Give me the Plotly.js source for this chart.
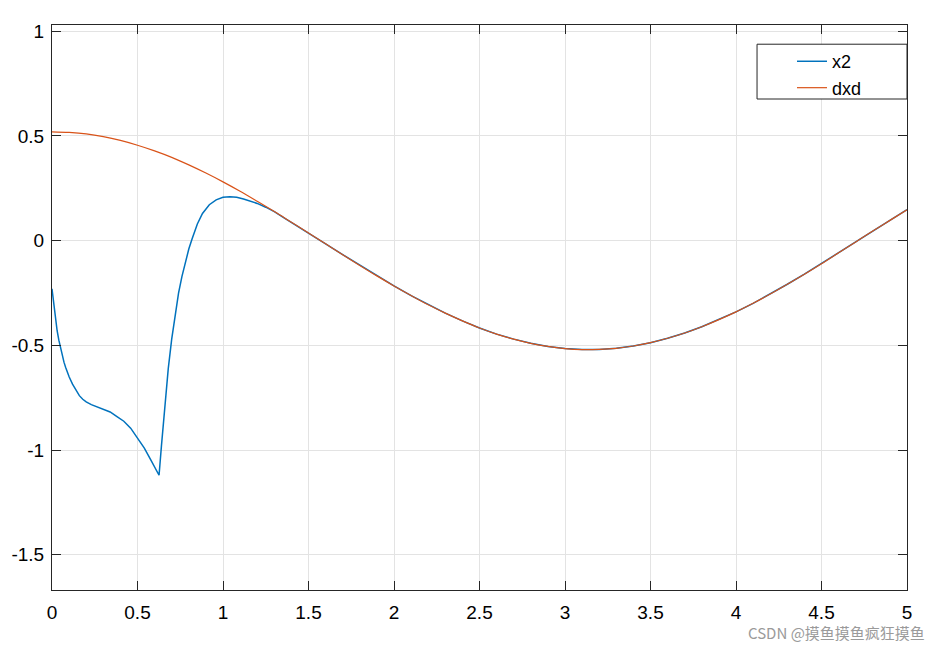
<!DOCTYPE html>
<html>
<head>
<meta charset="utf-8">
<script src="https://cdn.plot.ly/plotly-3.0.1.min.js"></script>
<style>html,body{margin:0;padding:0;background:#fff;}#chart{width:943px;height:652px;}</style>
</head>
<body>
<div id="chart"></div>
<script>
// time axis and values
const tX2 = [0, 0.01, 0.02, 0.03, 0.04, 0.05, 0.06, 0.07, 0.08, 0.09, 0.10, 0.12, 0.14, 0.16, 0.18, 0.20, 0.23, 0.26, 0.30,
  0.34, 0.38, 0.42, 0.46, 0.50, 0.54, 0.58, 0.61, 0.626,
  0.64, 0.66, 0.68, 0.70, 0.72, 0.74, 0.76, 0.78, 0.80, 0.82, 0.85, 0.88, 0.92, 0.96, 1.00, 1.04, 1.08, 1.12, 1.16, 1.20, 1.25, 1.30, 1.35, 1.40,
  1.5, 1.6, 1.7, 1.8, 1.9, 2.0, 2.1, 2.2, 2.3, 2.4, 2.5, 2.6, 2.7, 2.8, 2.9, 3.0, 3.1, 3.2, 3.3, 3.4, 3.5,
  3.6, 3.7, 3.8, 3.9, 4.0, 4.1, 4.2, 4.3, 4.4, 4.5, 4.6, 4.7, 4.8, 4.9, 5.0];
const x2 = [-0.23, -0.30, -0.37, -0.43, -0.475, -0.515, -0.55, -0.58, -0.605, -0.63, -0.65, -0.685, -0.715, -0.74, -0.757, -0.77, -0.783, -0.793, -0.805,
  -0.818, -0.84, -0.862, -0.895, -0.94, -0.99, -1.05, -1.095, -1.12,
  -0.98, -0.79, -0.61, -0.47, -0.35, -0.25, -0.17, -0.10, -0.04, 0.01, 0.08, 0.13, 0.172, 0.195, 0.207, 0.210, 0.207, 0.199, 0.190, 0.178, 0.160, 0.139, 0.113, 0.088,
  0.037, -0.015, -0.067, -0.118, -0.168, -0.216, -0.262, -0.306, -0.346, -0.383, -0.417, -0.446, -0.470, -0.490, -0.505, -0.515, -0.520, -0.519, -0.514, -0.503, -0.487,
  -0.466, -0.441, -0.411, -0.377, -0.340, -0.299, -0.255, -0.208, -0.160, -0.110, -0.058, -0.006, 0.046, 0.097, 0.148];

const tDxd = [0, 0.1, 0.2, 0.3, 0.4, 0.5, 0.6, 0.7, 0.8, 0.9, 1.0, 1.1, 1.2, 1.3, 1.4, 1.5, 1.6, 1.7, 1.8, 1.9,
  2.0, 2.1, 2.2, 2.3, 2.4, 2.5, 2.6, 2.7, 2.8, 2.9, 3.0, 3.1, 3.2, 3.3, 3.4, 3.5, 3.6, 3.7, 3.8, 3.9,
  4.0, 4.1, 4.2, 4.3, 4.4, 4.5, 4.6, 4.7, 4.8, 4.9, 5.0];
const dxd = [0.520, 0.517, 0.510, 0.497, 0.479, 0.456, 0.429, 0.398, 0.362, 0.323, 0.281, 0.236, 0.188, 0.139, 0.088, 0.037, -0.015, -0.067, -0.118, -0.168,
  -0.216, -0.262, -0.306, -0.346, -0.383, -0.417, -0.446, -0.470, -0.490, -0.505, -0.515, -0.520, -0.519, -0.514, -0.503, -0.487, -0.466, -0.441, -0.411, -0.377,
  -0.340, -0.299, -0.255, -0.208, -0.160, -0.110, -0.058, -0.006, 0.046, 0.097, 0.148];

const xTickVals = [0, 0.5, 1, 1.5, 2, 2.5, 3, 3.5, 4, 4.5, 5];
const xTickText = ['0', '0.5', '1', '1.5', '2', '2.5', '3', '3.5', '4', '4.5', '5'];
const yTickVals = [1, 0.5, 0, -0.5, -1, -1.5];
const yTickText = ['1', '0.5', '0', '-0.5', '-1', '-1.5'];

const traces = [
  {x: tX2, y: x2, name: 'x2', type: 'scatter', mode: 'lines', line: {color: '#0072BD', width: 1.5}},
  {x: tDxd, y: dxd, name: 'dxd', type: 'scatter', mode: 'lines', line: {color: '#D95319', width: 1.2, shape: 'spline'}}
];

const axisCommon = {
  showline: true, linecolor: '#262626', linewidth: 1, mirror: 'ticks',
  ticks: 'inside', ticklen: 9, tickcolor: '#262626', tickwidth: 1,
  showgrid: true, gridcolor: '#e3e3e3', gridwidth: 1, zeroline: false,
  tickfont: {family: 'Liberation Sans, Arial, sans-serif', size: 19, color: '#000'}
};

const layout = {
  width: 943, height: 652,
  margin: {l: 52, r: 36, t: 25, b: 62},
  paper_bgcolor: '#fff', plot_bgcolor: '#fff',
  xaxis: Object.assign({}, axisCommon, {range: [0, 5], tickmode: 'array', tickvals: xTickVals, ticktext: xTickText, ticklabelstandoff: 5}),
  yaxis: Object.assign({}, axisCommon, {range: [-1.668, 1.03], tickmode: 'array', tickvals: yTickVals, ticktext: yTickText, ticklabelstandoff: 3}),
  showlegend: true,
  legend: {
    x: 0.8655, xanchor: 'left', y: 0.968, yanchor: 'top',
    bgcolor: 'rgba(0,0,0,0)', borderwidth: 0,
    font: {family: 'Liberation Sans, Arial, sans-serif', size: 18, color: '#000'},
    itemwidth: 30
  },
  shapes: [
    {type: 'rect', xref: 'paper', yref: 'paper', x0: 0.8246, x1: 1, y0: 0.869, y1: 0.966,
     line: {color: '#262626', width: 1}, fillcolor: '#fff', layer: 'above'}
  ],
  annotations: [
    {xref: 'paper', yref: 'paper', x: 1.0234, y: -0.075, xanchor: 'right', yanchor: 'middle', showarrow: false,
     text: 'CSDN @摸鱼摸鱼疯狂摸鱼', font: {family: 'Noto Sans CJK SC, sans-serif', size: 15, color: '#9a9a9a'}}
  ]
};

Plotly.newPlot('chart', traces, layout, {staticPlot: true, displayModeBar: false});
</script>
</body>
</html>
